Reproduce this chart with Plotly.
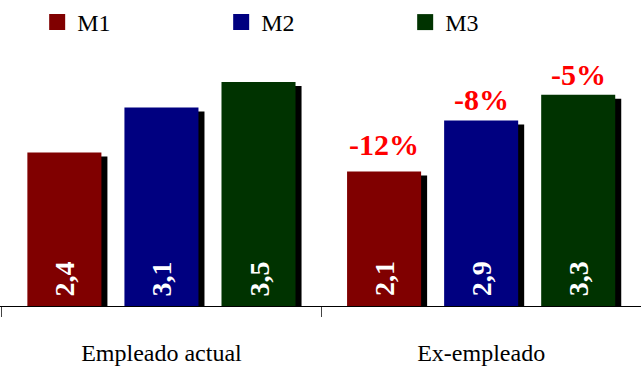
import plotly.graph_objects as go

# Data
categories = ["Empleado actual", "Ex-empleado"]
series_names = ["M1", "M2", "M3"]
m1_values = [2.4, 2.1]
m2_values = [3.1, 2.9]
m3_values = [3.5, 3.3]
change_labels_m1 = ["", "-12%"]
change_labels_m2 = ["", "-8%"]
change_labels_m3 = ["", "-5%"]

colors = ["#800000", "#000080", "#003300"]
values = [m1_values, m2_values, m3_values]
changes = [change_labels_m1, change_labels_m2, change_labels_m3]
# vertical lift (px) of each series' change label above its bar
label_lift = [9, 2, 2]

SERIF = "Liberation Serif"

# geometry in category units
bar_w = 0.2316
spacing = 0.3036
shadow_dx = 0.0188
shadow_dy = 0.0625

fig = go.Figure()

# drop shadows behind each bar
for i, vals in enumerate(values):
    off = (i - 1) * spacing - bar_w / 2 + shadow_dx
    fig.add_trace(go.Bar(
        x=categories, y=[v - shadow_dy for v in vals],
        width=bar_w, offset=off,
        marker=dict(color="black", line=dict(width=0)),
        showlegend=False, hoverinfo="skip",
    ))

# main bars
for i, (name, vals, col) in enumerate(zip(series_names, values, colors)):
    off = (i - 1) * spacing - bar_w / 2
    fig.add_trace(go.Bar(
        x=categories, y=vals, name=name,
        width=bar_w, offset=off,
        marker=dict(color=col, line=dict(width=0)),
        showlegend=False,
    ))

# values written vertically near the foot of each bar
for i, vals in enumerate(values):
    for j, v in enumerate(vals):
        fig.add_annotation(
            x=j + (i - 1) * spacing, y=0, xref="x", yref="y",
            text=f"{v:.1f}".replace(".", ","), showarrow=False,
            textangle=-90, xanchor="center", yanchor="middle", yshift=27,
            font=dict(family=SERIF, size=28, color="white", weight="bold"),
        )

# percentage change labels above the second group
for i, (vals, labs) in enumerate(zip(values, changes)):
    for j, (v, lab) in enumerate(zip(vals, labs)):
        if not lab:
            continue
        fig.add_annotation(
            x=j + (i - 1) * spacing, y=v, xref="x", yref="y",
            text=lab, showarrow=False, yanchor="bottom", yshift=label_lift[i],
            font=dict(family=SERIF, size=30, color="#ff0000", weight="bold"),
        )

# legend entries
for name, col in zip(series_names, colors):
    fig.add_trace(go.Scatter(
        x=[None], y=[None], mode="markers", name=name,
        marker=dict(symbol="square", size=17, color=col),
    ))

fig.update_layout(
    width=641, height=373,
    margin=dict(l=0, r=0, t=50, b=67),
    paper_bgcolor="white", plot_bgcolor="white",
    barmode="overlay",
    font=dict(family=SERIF, color="black"),
    showlegend=True,
    legend=dict(
        orientation="h", x=0.058, xanchor="left", y=1.0, yanchor="top",
        yref="container", font=dict(size=24, family=SERIF),
        itemsizing="trace", entrywidth=139, entrywidthmode="pixels",
        bgcolor="rgba(0,0,0,0)",
    ),
    xaxis=dict(
        type="category", range=[-0.505, 1.5],
        showline=True, linecolor="black", linewidth=1,
        ticks="outside", tickson="boundaries", ticklen=10, tickcolor="#444",
        tickfont=dict(size=24, family=SERIF),
        ticklabelstandoff=25, showgrid=False,
    ),
    yaxis=dict(range=[0, 4], visible=False, showgrid=False),
)

fig.write_html("out.html")
